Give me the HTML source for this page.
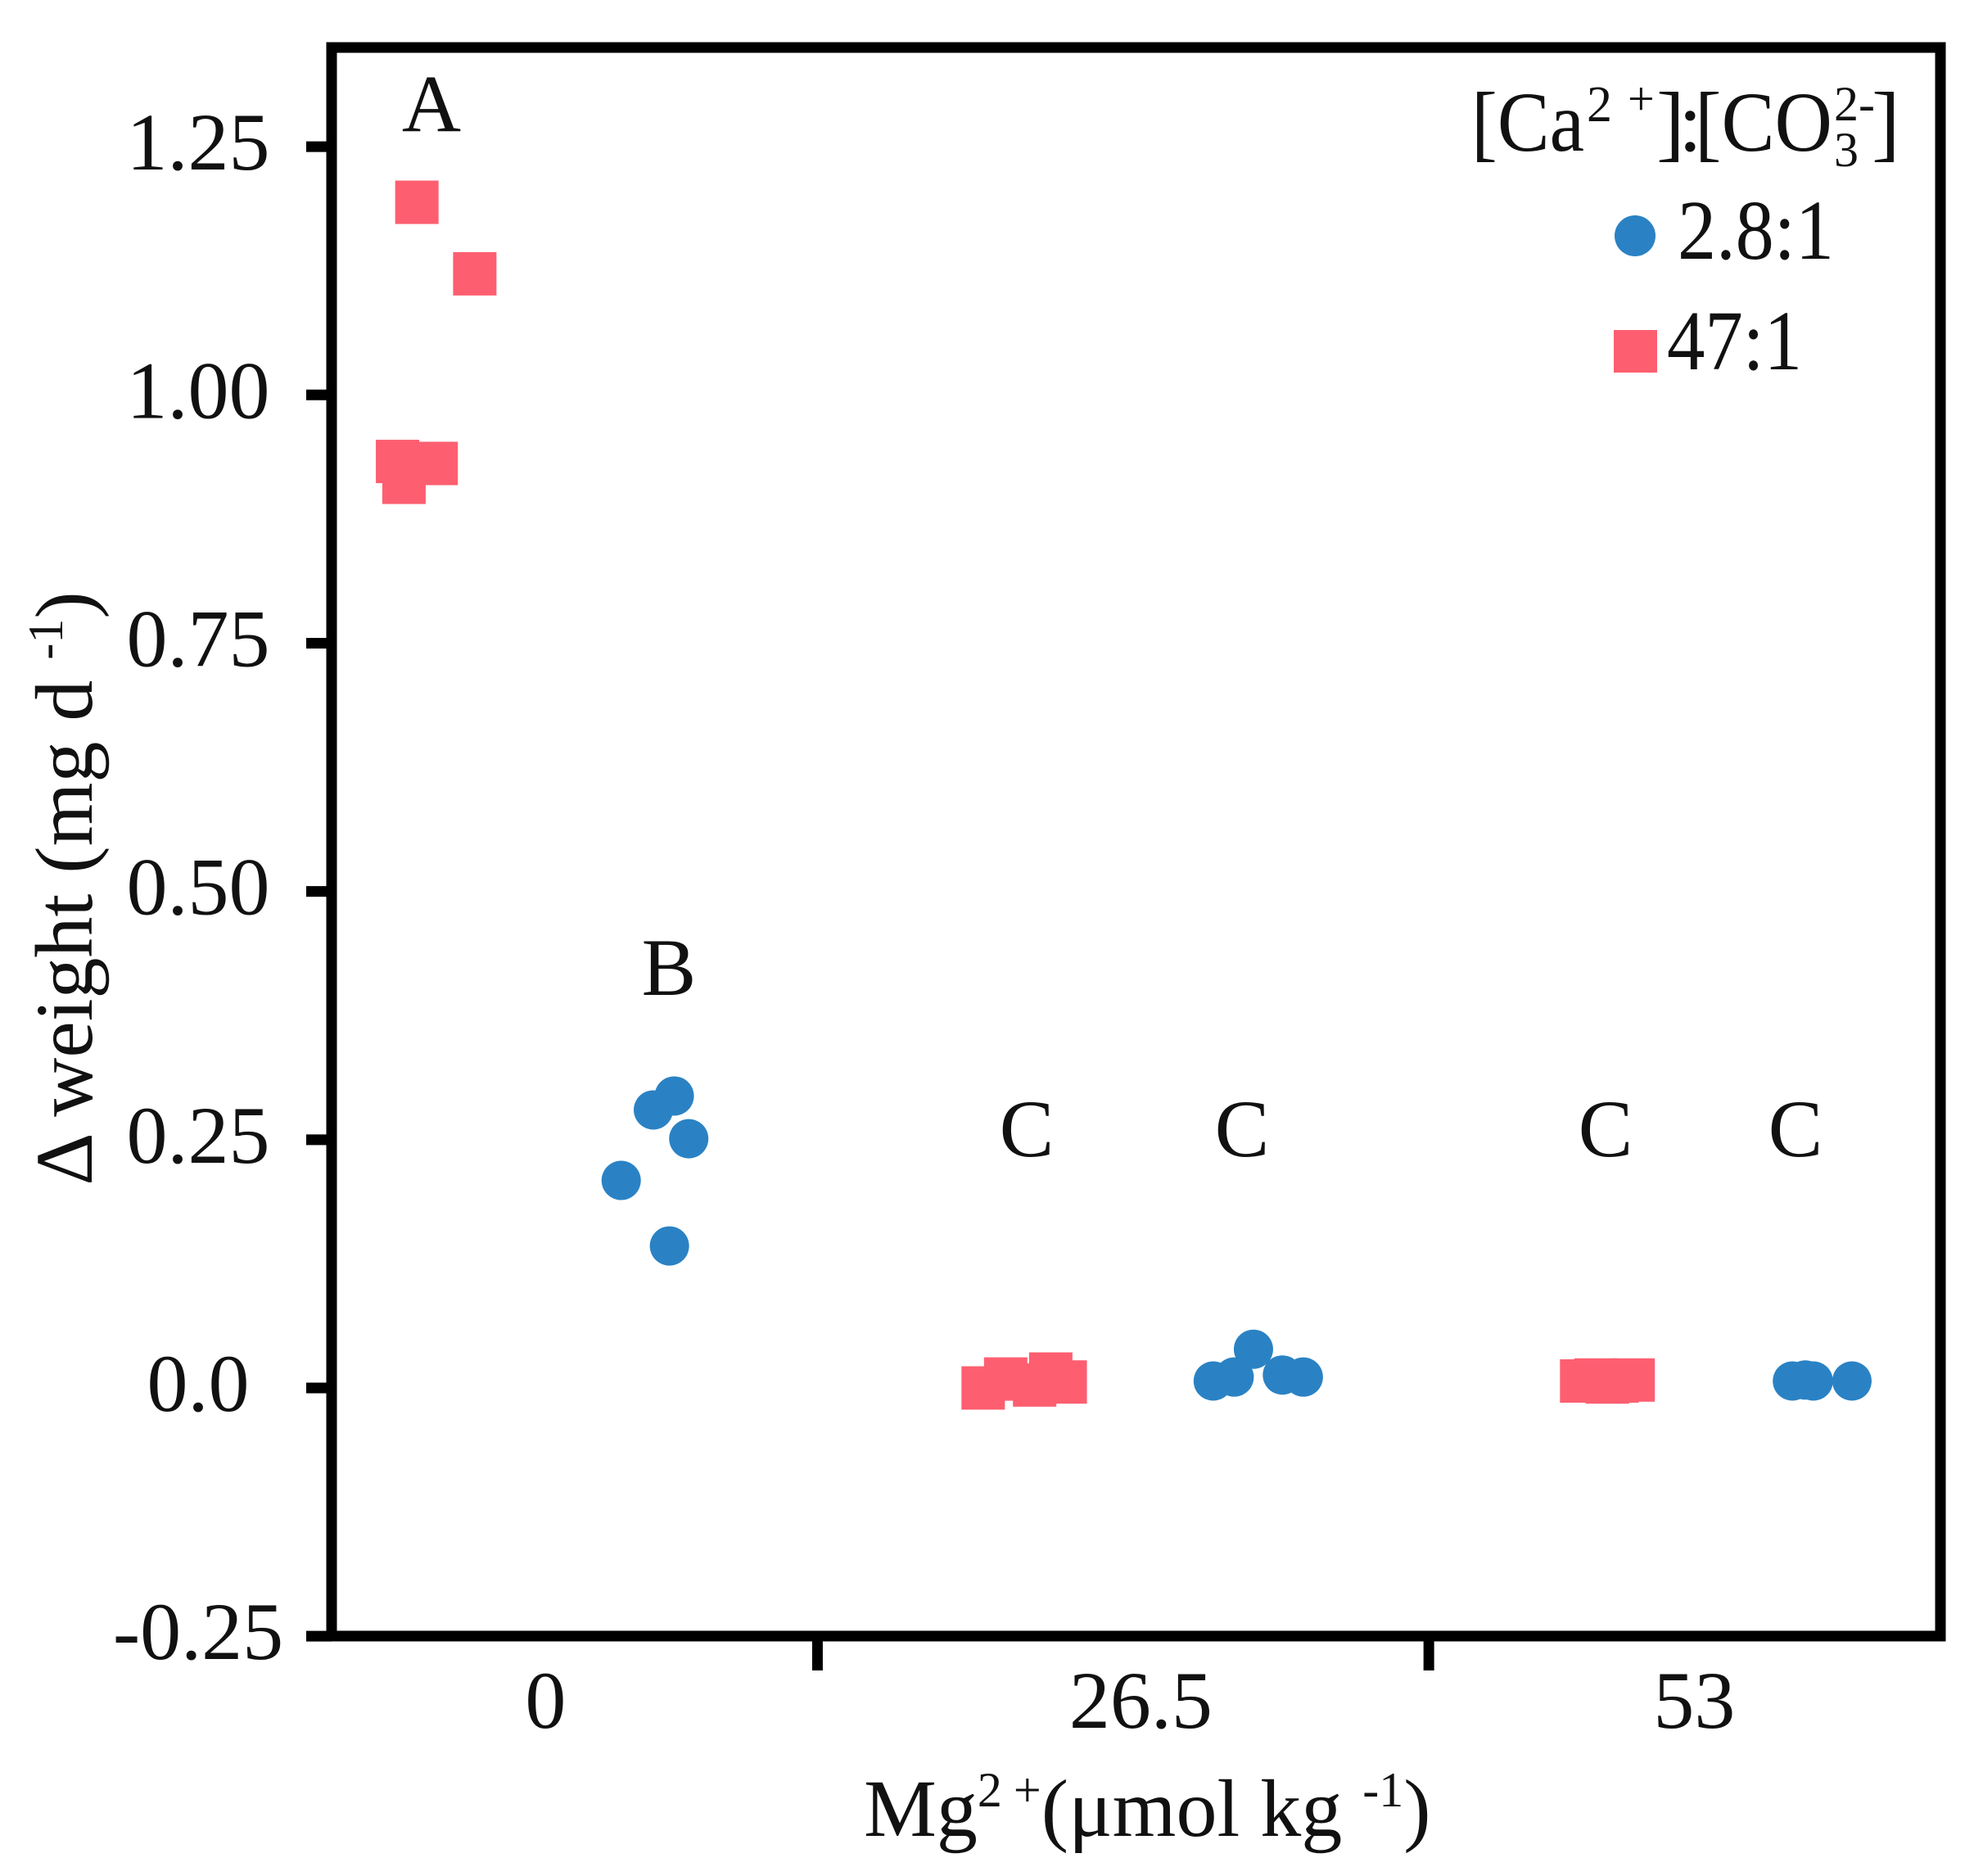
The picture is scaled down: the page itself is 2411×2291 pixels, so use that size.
<!DOCTYPE html>
<html><head><meta charset="utf-8"><style>
html,body{margin:0;padding:0;background:#fff;}
svg{display:block;font-family:"Liberation Serif",serif;}
</style></head><body>
<svg id="chart" width="2411" height="2291" viewBox="0 0 2411 2291" xmlns="http://www.w3.org/2000/svg">
<rect x="0" y="0" width="2411" height="2291" fill="#fff"/>
<g id="marks"></g>
<g id="axes"></g>
<rect x="405" y="58" width="1965" height="1940" fill="none" stroke="#000" stroke-width="13"/>
<g fill="#111">
  <text x="1797" y="184" font-size="104" textLength="138" lengthAdjust="spacingAndGlyphs">[Ca</text>
  <text x="1938" y="148" font-size="62">2</text>
  <text x="1988" y="140" font-size="58">+</text>
  <text x="2023" y="184" font-size="104">]</text>
  <text x="2050" y="184" font-size="104">:</text>
  <text x="2070" y="184" font-size="104" textLength="168" lengthAdjust="spacingAndGlyphs">[CO</text>
  <text x="2240" y="147" font-size="60">2-</text>
  <text x="2240" y="203" font-size="60">3</text>
  <text x="2286" y="184" font-size="104">]</text>
  <circle cx="1997" cy="288" r="25" fill="#2a82c4"/>
  <text x="2049" y="316" font-size="104" textLength="191" lengthAdjust="spacingAndGlyphs">2.8:1</text>
  <rect x="1971" y="403" width="53" height="52" fill="#fd5f70"/>
  <text x="2036" y="451" font-size="104" textLength="165" lengthAdjust="spacingAndGlyphs">47:1</text>
</g>
<text x="527" y="160" font-size="100" text-anchor="middle" fill="#111">A</text>
<text x="817" y="1215" font-size="100" text-anchor="middle" fill="#111">B</text>
<text x="1254" y="1412" font-size="100" text-anchor="middle" fill="#111">C</text>
<text x="1517" y="1412" font-size="100" text-anchor="middle" fill="#111">C</text>
<text x="1961" y="1412" font-size="100" text-anchor="middle" fill="#111">C</text>
<text x="2193" y="1412" font-size="100" text-anchor="middle" fill="#111">C</text>
<text x="1055" y="2242" font-size="100" fill="#111">Mg<tspan font-size="60" dy="-36">2</tspan><tspan font-size="60" dx="14">+</tspan><tspan dy="36">(μmol kg </tspan><tspan font-size="60" dy="-36">-1</tspan><tspan dy="36">)</tspan></text>
<text transform="translate(112,1085) rotate(-90)" font-size="100" text-anchor="middle" fill="#111">Δ weight (mg d <tspan font-size="60" dy="-36">-1</tspan><tspan dy="36">)</tspan></text>
</svg>
<script>
const yTicks = [1.25, 1.00, 0.75, 0.50, 0.25, 0.0, -0.25];
const yTickLabels = ["1.25", "1.00", "0.75", "0.50", "0.25", "0.0", "-0.25"];
const xCategoryLabels = ["0", "26.5", "53"];
const xCategoryPos = [1.33, 5.03, 8.47];
const xSeparators = [3.02, 6.82];
const sqX = [0.53, 0.89, 0.41, 0.45, 0.65, 4.05, 4.19, 4.37, 4.47, 4.56, 7.77, 7.86, 7.93, 7.99, 8.09];
const sqY = [1.194, 1.122, 0.933, 0.912, 0.931, 0.000, 0.009, 0.003, 0.014, 0.006, 0.007, 0.008, 0.006, 0.007, 0.008];
const ciX = [1.80, 2.00, 2.13, 2.22, 2.10, 5.48, 5.61, 5.73, 5.91, 6.04, 9.08, 9.16, 9.21, 9.45];
const ciY = [0.209, 0.280, 0.294, 0.251, 0.143, 0.007, 0.011, 0.039, 0.013, 0.011, 0.007, 0.008, 0.007, 0.007];

const NS = "http://www.w3.org/2000/svg";
function xScale(u){ return 405 + u * 196.5; }
function yScale(v){ return 1695 - v * 1212.7; }
const marks = document.getElementById('marks');
const axes = document.getElementById('axes');

yTicks.forEach((t, i) => {
  const y = yScale(t);
  const ln = document.createElementNS(NS, 'line');
  ln.setAttribute('x1', 374); ln.setAttribute('x2', 405);
  ln.setAttribute('y1', y); ln.setAttribute('y2', y);
  ln.setAttribute('stroke', '#000'); ln.setAttribute('stroke-width', 13);
  
  
  axes.appendChild(ln);
  const tx = document.createElementNS(NS, 'text');
  tx.setAttribute('x', 242); tx.setAttribute('y', y + 28);
  tx.setAttribute('font-size', 100); tx.setAttribute('text-anchor', 'middle'); tx.setAttribute('fill', '#111');
  tx.textContent = yTickLabels[i];
  
  
  axes.appendChild(tx);
});
xSeparators.forEach(s => {
  const x = xScale(s);
  const ln = document.createElementNS(NS, 'line');
  ln.setAttribute('x1', x); ln.setAttribute('x2', x);
  ln.setAttribute('y1', 1998); ln.setAttribute('y2', 2040);
  ln.setAttribute('stroke', '#000'); ln.setAttribute('stroke-width', 13);
  
  
  axes.appendChild(ln);
});
xCategoryLabels.forEach((l, i) => {
  const tx = document.createElementNS(NS, 'text');
  tx.setAttribute('x', xScale(xCategoryPos[i])); tx.setAttribute('y', 2110);
  tx.setAttribute('font-size', 100); tx.setAttribute('text-anchor', 'middle'); tx.setAttribute('fill', '#111');
  tx.textContent = l;
  
  
  axes.appendChild(tx);
});
sqX.forEach((u, i) => {
  const r = document.createElementNS(NS, 'rect');
  r.setAttribute('x', xScale(u) - 26.5); r.setAttribute('y', yScale(sqY[i]) - 26.5);
  r.setAttribute('width', 53); r.setAttribute('height', 53);
  r.setAttribute('fill', '#fd5f70');
  
  
  marks.appendChild(r);
});
ciX.forEach((u, i) => {
  const c = document.createElementNS(NS, 'circle');
  c.setAttribute('cx', xScale(u)); c.setAttribute('cy', yScale(ciY[i]));
  c.setAttribute('r', 24);
  c.setAttribute('fill', '#2a82c4');
  
  
  marks.appendChild(c);
});
</script>
</body></html>
